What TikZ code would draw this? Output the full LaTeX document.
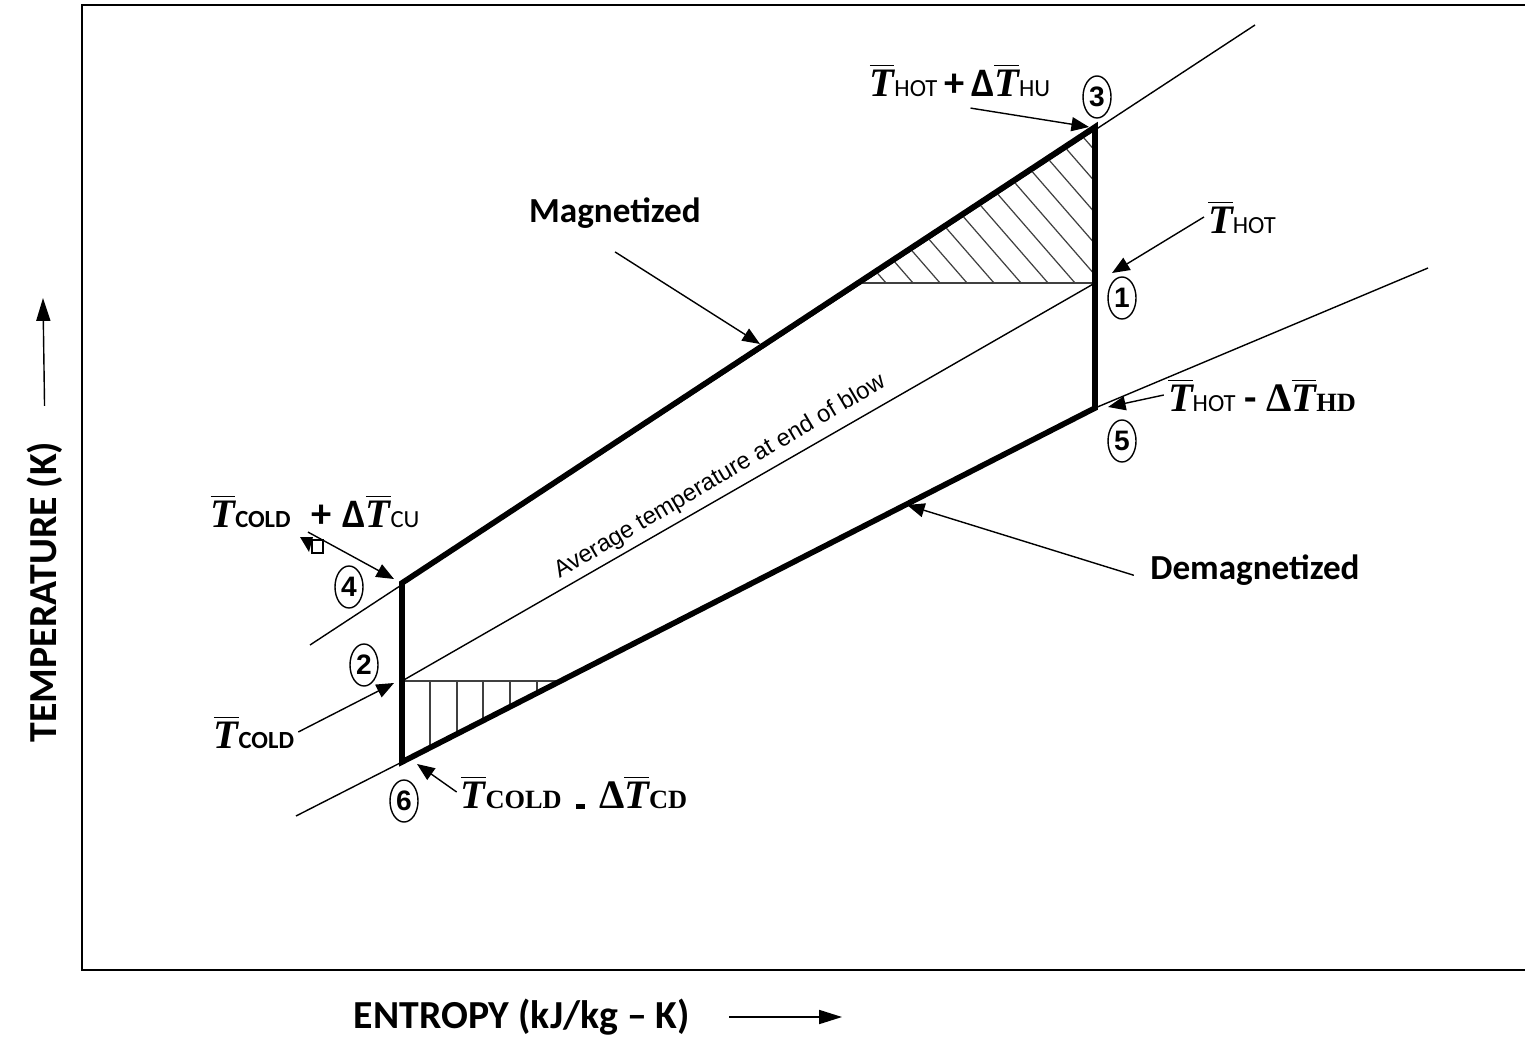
\documentclass[tikz,border=0pt]{standalone}
\usepackage{fontspec}
\setmainfont{Carlito}
\newfontfamily\tmsfont{Liberation Serif}
\newfontfamily\arlfont{Liberation Sans}
\usetikzlibrary{arrows.meta, shapes.geometric}

\newcommand{\Tbar}{$\overline{\mbox{\tmsfont\bfseries\itshape T}}$}
\newcommand{\lowtxt}[1]{{\fontsize{7}{8}\selectfont #1}}
\newcommand{\lowtms}[1]{{\tmsfont\bfseries\fontsize{7.5}{8}\selectfont #1}}

\begin{document}
\begin{tikzpicture}[x=0.01cm, y=-0.01cm,
    cyc/.style={line width=1.6pt, line join=miter},
    guide/.style={line width=0.4pt},
    hatch/.style={line width=0.35pt, black!75},
    lead/.style={line width=0.4pt, -{Triangle[length=5pt, width=4pt]}},
    axarrow/.style={line width=0.4pt, -{Triangle[length=6.5pt, width=4pt]}},
    pt/.style={draw, ellipse, line width=0.4pt, minimum width=0.28cm, minimum height=0.42cm, inner sep=0pt, font=\arlfont\bfseries\fontsize{8}{9}\selectfont},
    lbl/.style={inner sep=1pt, font=\fontsize{11.5}{13}\selectfont},
    curve/.style={inner sep=1pt, font=\bfseries\fontsize{10}{12}\selectfont},
    axis/.style={inner sep=1pt, font=\bfseries\fontsize{11.3}{13}\selectfont},
]
\useasboundingbox (0,0) rectangle (1525,1037);

% Frame
\draw[line width=0.5pt] (1525,5) -- (82,5) -- (82,970) -- (1525,970);

% State points
\coordinate (p1) at (1095,283);
\coordinate (p2) at (402,681);
\coordinate (p3) at (1095,127);
\coordinate (p4) at (402,583);
\coordinate (p5) at (1095,408);
\coordinate (p6) at (402,762);
\coordinate (h1) at (858,283);
\coordinate (h2) at (560,681);

% Guide lines
\coordinate (g4) at (310,645);
\coordinate (g3) at (1255,25);
\coordinate (g6) at (296,816);
\coordinate (g5) at (1428,268);
\draw[guide] (g4) -- (g3);
\draw[guide] (g6) -- (p6);
\draw[guide] (p5) -- (g5);
\draw[guide] (p2) -- (p1);

% Hatched areas
\draw[hatch] (h1) -- (p1);
\begin{scope}
\clip (h1) -- (p3) -- (p1) -- cycle;
\foreach \x in {886,913,...,1240}
    \draw[hatch] (\x,283) -- ++(-220,-253);
\end{scope}
\draw[hatch] (p2) -- (h2);
\begin{scope}
\clip (p2) -- (h2) -- (p6) -- cycle;
\foreach \x in {430,457,483,510,537}
    \draw[hatch] (\x,681) -- (\x,770);
\end{scope}

% Cycle
\draw[cyc] (p4) -- (p3) -- (p5) -- (p6) -- cycle;

% Point markers
\node[pt] (c1) at (1122,298) {1};
\node[pt] (c2) at (364,665) {2};
\node[pt] (c3) at (1097,97) {3};
\node[pt] (c4) at (349,587) {4};
\node[pt] (c5) at (1122,441) {5};
\node[pt] (c6) at (404,801) {6};

% Average line text
\node[inner sep=0pt, rotate=30.5, font=\arlfont\fontsize{6.8}{8}\selectfont] (avg) at (720,477) {Average temperature at end of blow};

% Curve labels
\node[curve] (mag) at (615,213) {Magnetized};
\node[curve] (demag) at (1255,570) {Demagnetized};
\coordinate (magtip) at (760,344);
\coordinate (demtip) at (907,505);
\draw[lead] ([yshift=-5.5pt]mag.south) -- (magtip);
\draw[lead] ([xshift=-3.5pt,yshift=-1.5pt]demag.west) -- (demtip);

% Temperature labels
\node[lbl] (lhu) at (960,80) {\Tbar\lowtxt{HOT}\,{\bfseries+}\,{\bfseries Δ}\Tbar\lowtxt{HU}};
\node[lbl] (lhot) at (1242,217) {\Tbar\lowtxt{HOT}};
\node[lbl] (lhd) at (1262,395) {\Tbar\lowtxt{HOT}\ {\bfseries -}\ {\tmsfont\bfseries Δ}\Tbar\lowtms{HD}};
\node[lbl] (lcu) at (315,511) {\Tbar\lowtxt{\bfseries COLD}\hspace{6pt}{\bfseries+}\hspace{3pt}{\bfseries Δ}\Tbar\lowtxt{CU}};
\node[lbl] (lcold) at (254,732) {\Tbar\lowtxt{\bfseries COLD}};
\node[lbl] (lcd) at (574,792) {\Tbar\lowtms{COLD}\hspace{4pt}\rule{2.6pt}{1.4pt}\hspace{4pt}{\tmsfont\bfseries Δ}\Tbar\lowtms{CD}};

\coordinate (t3) at (1089,127);
\coordinate (t1) at (1112,273);
\coordinate (t5) at (1108,407);
\coordinate (t4) at (394,579);
\coordinate (t2) at (394,683);
\coordinate (t6) at (417,764);
\draw[lead] ([xshift=3pt,yshift=-2pt]lhu.south) -- (t3);
\draw[lead] (lhot.west) -- (t1);
\draw[lead] (lhd.west) -- (t5);
\draw[lead] ([xshift=-2pt]lcu.south) -- (t4);
\draw[lead] (lcold.east) -- (t2);
\draw[lead] (lcd.west) -- (t6);

% Stray marker near label 4
\draw[line width=0.4pt] (312,540) rectangle (323,553);
\fill (300,537) -- (313,537) -- (309,552) -- cycle;

% Axis titles
\node[axis, rotate=90] (ytitle) at (45,592) {TEMPERATURE (K)};
\node[axis] (xtitle) at (522,1017) {ENTROPY (kJ/kg – K)};
\coordinate (ytip) at (43,298);
\coordinate (xtip) at (842,1017);
\draw[axarrow, shorten <=9pt] (ytitle.east) -- (ytip);
\draw[axarrow, shorten <=10pt] (xtitle.east) -- (xtip);
\end{tikzpicture}
\end{document}
